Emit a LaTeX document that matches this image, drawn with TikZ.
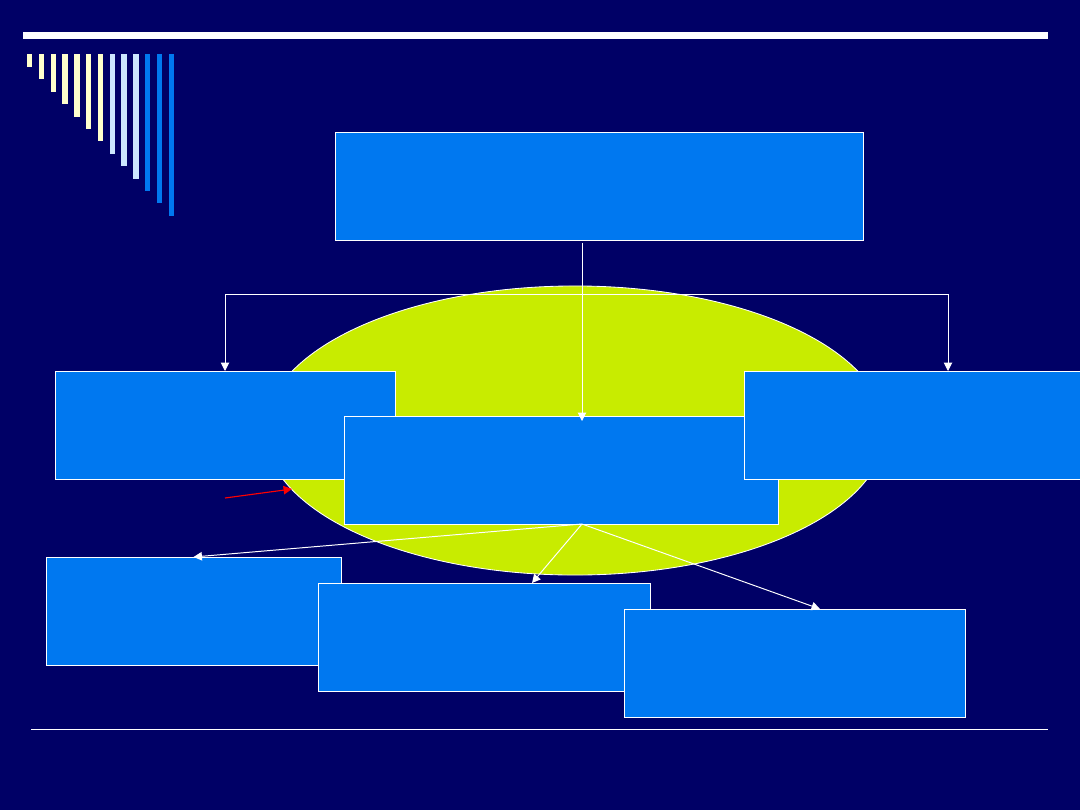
\documentclass[tikz,border=0pt]{standalone}
\usepackage[dvipsnames]{xcolor}
\usepackage{tikz}
\usetikzlibrary{arrows.meta}
\definecolor{slidenavy}{RGB}{0,0,102}
\definecolor{boxblue}{RGB}{0,120,240}
\definecolor{limefill}{RGB}{200,236,0}
\definecolor{barcream}{RGB}{255,255,204}
\definecolor{barsky}{RGB}{204,230,255}
\begin{document}
\begin{tikzpicture}[x=0.025cm,y=-0.025cm,
  box/.style={draw=white,line width=0.6pt,fill=boxblue,minimum height=2.7cm,inner sep=0pt,outer sep=0pt},
  link/.style={draw=white,line width=0.7pt,-{Triangle[length=6pt,width=6pt]}}]
\useasboundingbox (0,0) rectangle (1080,810);
\fill[slidenavy] (0,0) rectangle (1080,810);
\fill[white] (23,32) rectangle (1048,39);
\foreach \kk/\cc in {1/barcream,2/barcream,3/barcream,4/barcream,5/barcream,6/barcream,7/barcream,
  8/barsky,9/barsky,10/barsky,11/boxblue,12/boxblue,13/boxblue}{
\fill[\cc] ({27+11.8*(\kk-1)},54) rectangle ({32.3+11.8*(\kk-1)},{54.5+12.4*\kk});}
\draw[white,line width=0.7pt] (31,729)--(1048,729);
\filldraw[fill=limefill,draw=white,line width=0.6pt] (575,430.5) ellipse [x radius=7.75cm,y radius=3.6125cm];
\node[box,minimum width=13.2cm] (top) at (599,186) {};
\node[box,minimum width=8.5cm] (left) at (225,425) {};
\node[box,minimum width=10.85cm] (mid) at (561,470) {};
\node[box,minimum width=8.45cm] (right) at (913,425) {};
\node[box,minimum width=7.375cm] (lowleft) at (193.5,611) {};
\node[box,minimum width=8.3cm] (lowmid) at (484,637) {};
\node[box,minimum width=8.525cm] (lowright) at (794.5,663) {};
\coordinate (fork) at (582,294);
\coordinate (hub) at (582,524);
\coordinate (rightin) at (948,371);
\draw[link] (top.south -| fork) ++(0,3) -- (582,421);
\draw[link] (fork) -| (left.north);
\draw[link] (fork) -| (rightin);
\draw[link] (hub) -- (lowleft.north);
\draw[link] (hub) -- (532,583);
\draw[link] (hub) -- (820,609);
\coordinate (redtail) at (225,498);
\coordinate (redhead) at (292,489);
\draw[red,line width=0.8pt,-{Triangle[length=6pt,width=6pt]}] (redtail) -- (redhead);
\end{tikzpicture}
\end{document}
